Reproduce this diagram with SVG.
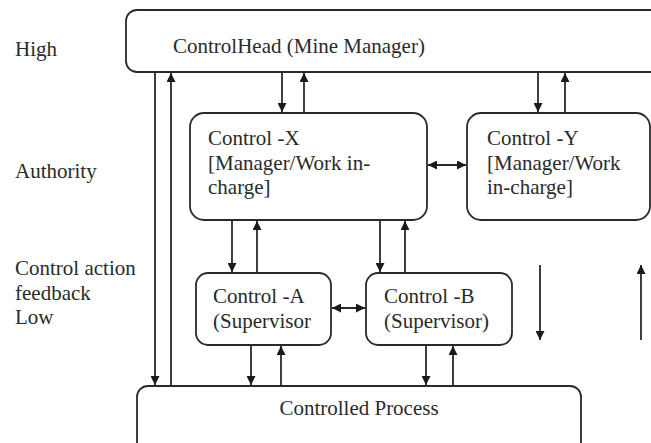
<svg xmlns="http://www.w3.org/2000/svg" width="651" height="443" viewBox="0 0 651 443">
<style>
.box{fill:#fff;stroke:#2a2a2a;stroke-width:1.8}
.t{font-family:"Liberation Serif","Times New Roman",serif;font-size:21px;fill:#2a2a2a}
.c{fill:none;stroke:#2a2a2a;stroke-width:1.8}
</style>
<defs>
<marker id="ah" viewBox="0 0 10 10" refX="10" refY="5" markerWidth="9" markerHeight="9" markerUnits="userSpaceOnUse" orient="auto-start-reverse">
<path d="M0,0 L10,5 L0,10 z" fill="#1a1a1a"/>
</marker>
</defs>
<rect width="651" height="443" fill="#fff"/>
<g id="labels">
<text class="t" x="15" y="56">High</text>
<text class="t" x="15" y="178">Authority</text>
<text class="t" x="15" y="275">Control action</text>
<text class="t" x="15" y="300">feedback</text>
<text class="t" x="15" y="324">Low</text>
</g>
<g id="head">
<rect class="box" x="126" y="10" width="545" height="62" rx="11"/>
<text class="t" x="173" y="53">ControlHead (Mine Manager)</text>
</g>
<g id="controlX">
<rect class="box" x="190" y="113" width="237" height="107" rx="14"/>
<text class="t" x="208" y="145">Control -X</text>
<text class="t" x="208" y="170">[Manager/Work in-</text>
<text class="t" x="208" y="194">charge]</text>
</g>
<g id="controlY">
<rect class="box" x="467" y="113" width="183" height="107" rx="14"/>
<text class="t" x="487" y="145">Control -Y</text>
<text class="t" x="487" y="170">[Manager/Work</text>
<text class="t" x="487" y="194">in-charge]</text>
</g>
<g id="controlA">
<rect class="box" x="196" y="273" width="135" height="72" rx="12"/>
<text class="t" x="213" y="303">Control -A</text>
<text class="t" x="213" y="328">(Supervisor</text>
</g>
<g id="controlB">
<rect class="box" x="366" y="273" width="146" height="72" rx="12"/>
<text class="t" x="384" y="303">Control -B</text>
<text class="t" x="384" y="328">(Supervisor)</text>
</g>
<g id="process">
<rect class="box" x="137" y="386" width="444" height="70" rx="11"/>
<text class="t" x="359" y="415" text-anchor="middle">Controlled Process</text>
</g>
<g id="connectors">
<path class="c" d="M155,72 V385" marker-end="url(#ah)"/>
<path class="c" d="M171,386 V73" marker-end="url(#ah)"/>
<path class="c" d="M282,72 V112" marker-end="url(#ah)"/>
<path class="c" d="M304,113 V73" marker-end="url(#ah)"/>
<path class="c" d="M538,72 V112" marker-end="url(#ah)"/>
<path class="c" d="M565,113 V73" marker-end="url(#ah)"/>
<path class="c" d="M428,165 H466" marker-start="url(#ah)" marker-end="url(#ah)"/>
<path class="c" d="M232,220 V272" marker-end="url(#ah)"/>
<path class="c" d="M257,273 V221" marker-end="url(#ah)"/>
<path class="c" d="M380,220 V272" marker-end="url(#ah)"/>
<path class="c" d="M405,273 V221" marker-end="url(#ah)"/>
<path class="c" d="M332,308 H365" marker-start="url(#ah)" marker-end="url(#ah)"/>
<path class="c" d="M251,345 V385" marker-end="url(#ah)"/>
<path class="c" d="M281,386 V346" marker-end="url(#ah)"/>
<path class="c" d="M426,345 V385" marker-end="url(#ah)"/>
<path class="c" d="M453,386 V346" marker-end="url(#ah)"/>
<path class="c" d="M540,265 V340" marker-end="url(#ah)"/>
<path class="c" d="M641,340 V265" marker-end="url(#ah)"/>
</g>
</svg>
